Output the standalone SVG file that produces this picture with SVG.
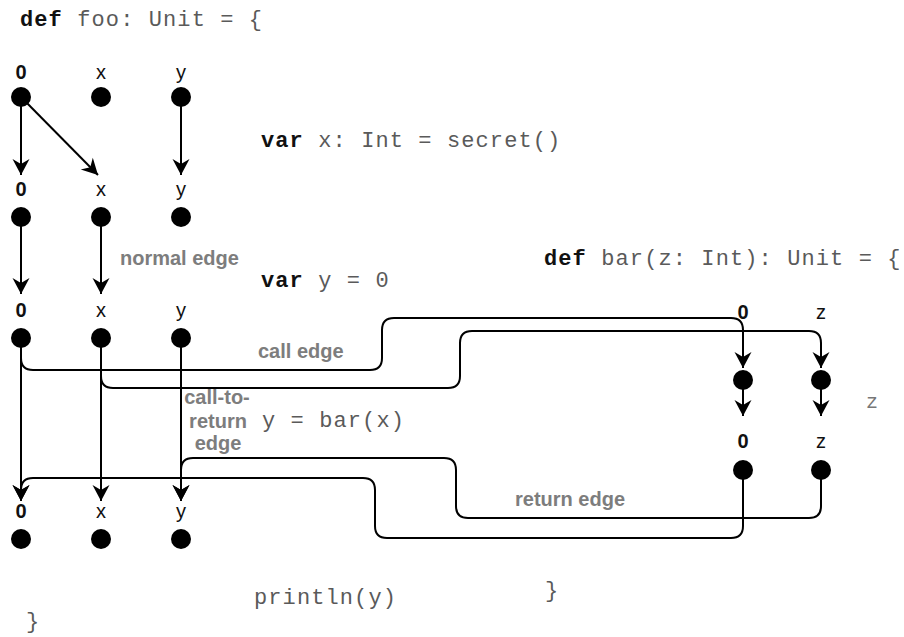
<svg xmlns="http://www.w3.org/2000/svg" width="904" height="637" viewBox="0 0 904 637">
<style>
.lbl{font-family:"Liberation Sans",Arial,sans-serif;font-size:20px;fill:#111;text-anchor:middle}
.zero{font-weight:bold}
.dot{fill:#000}
.code{font-family:"Liberation Mono","Courier New",monospace;font-size:22px;letter-spacing:1.1px;fill:#5a5a5a}
.kw{font-weight:bold;fill:#111}
.note{font-family:"Liberation Sans",Arial,sans-serif;font-size:20px;font-weight:bold;fill:#7d7d7d}
.e{fill:none;stroke:#000;stroke-width:2}
.a{marker-end:url(#ah)}
</style>
<defs>
<marker id="ah" markerUnits="userSpaceOnUse" markerWidth="20" markerHeight="20" viewBox="-17 -10 18 20" refX="0" refY="0" orient="auto">
<path d="M0,0 L-16,-8.5 L-11,0 L-16,8.5 Z" fill="#000"/>
</marker>
</defs>
<rect width="904" height="637" fill="#fff"/>

<g id="code">
<text class="code" x="20" y="26"><tspan class="kw">def</tspan> foo: Unit = {</text>
<text class="code" x="261" y="147"><tspan class="kw">var</tspan> x: Int = secret()</text>
<text class="code" x="261" y="287"><tspan class="kw">var</tspan> y = 0</text>
<text class="code" x="544" y="265"><tspan class="kw">def</tspan> bar(z: Int): Unit = {</text>
<text class="code" x="262" y="427">y = bar(x)</text>
<text class="code" x="254" y="604">println(y)</text>
<text class="code" x="26" y="628">}</text>
<text class="code" x="545" y="597">}</text>
<text class="code" x="866" y="408" style="fill:#777;font-size:20px">z</text>
</g>

<g id="connectors">
<path class="e a" d="M21,97 V175"/>
<path class="e a" d="M21,97 L98,175"/>
<path class="e a" d="M181,97 V175"/>
<path class="e a" d="M21,217 V294"/>
<path class="e a" d="M101,217 V294"/>
<path class="e a" d="M21,338 V501"/>
<path class="e a" d="M101,338 V501"/>
<path class="e a" d="M181,338 V501"/>
<path class="e a" d="M21,338 V358 Q21,370 33,370 H370 Q382,370 382,358 V330 Q382,318 394,318 H731 Q743,318 743,330 V368"/>
<path class="e a" d="M101,338 V376 Q101,388 113,388 H448 Q460,388 460,376 V343 Q460,331 472,331 H809 Q821,331 821,343 V368"/>
<path class="e a" d="M743,380 V416"/>
<path class="e a" d="M821,380 V416"/>
<path class="e a" d="M743,470 V526 Q743,538 731,538 H387 Q375,538 375,526 V490 Q375,478 363,478 H33 Q21,478 21,490 V501"/>
<path class="e a" d="M821,470 V506 Q821,518 809,518 H468 Q456,518 456,506 V470 Q456,458 444,458 H193 Q181,458 181,470 V501"/>
<text class="note" x="120" y="265">normal edge</text>
<text class="note" x="258" y="358">call edge</text>
<text class="note" x="515" y="506">return edge</text>
<text class="note" x="217" y="404" text-anchor="middle">call-to-</text>
<text class="note" x="218" y="428" text-anchor="middle">return</text>
<text class="note" x="218" y="450" text-anchor="middle">edge</text>
</g>

<g id="n1-0"><text class="lbl zero" x="21" y="79">0</text><circle class="dot" cx="21" cy="97" r="10"/></g>
<g id="n1-x"><text class="lbl" x="101" y="79">x</text><circle class="dot" cx="101" cy="97" r="10"/></g>
<g id="n1-y"><text class="lbl" x="181" y="79">y</text><circle class="dot" cx="181" cy="97" r="10"/></g>

<g id="n2-0"><text class="lbl zero" x="21" y="196">0</text><circle class="dot" cx="21" cy="217" r="10"/></g>
<g id="n2-x"><text class="lbl" x="101" y="196">x</text><circle class="dot" cx="101" cy="217" r="10"/></g>
<g id="n2-y"><text class="lbl" x="181" y="196">y</text><circle class="dot" cx="181" cy="217" r="10"/></g>

<g id="n3-0"><text class="lbl zero" x="21" y="317">0</text><circle class="dot" cx="21" cy="338" r="10"/></g>
<g id="n3-x"><text class="lbl" x="101" y="317">x</text><circle class="dot" cx="101" cy="338" r="10"/></g>
<g id="n3-y"><text class="lbl" x="181" y="317">y</text><circle class="dot" cx="181" cy="338" r="10"/></g>

<g id="n4-0"><text class="lbl zero" x="21" y="518">0</text><circle class="dot" cx="21" cy="539" r="10"/></g>
<g id="n4-x"><text class="lbl" x="101" y="518">x</text><circle class="dot" cx="101" cy="539" r="10"/></g>
<g id="n4-y"><text class="lbl" x="181" y="518">y</text><circle class="dot" cx="181" cy="539" r="10"/></g>

<g id="b1-0"><text class="lbl zero" x="743" y="319">0</text><circle class="dot" cx="743" cy="380" r="10"/></g>
<g id="b1-z"><text class="lbl" x="821" y="319">z</text><circle class="dot" cx="821" cy="380" r="10"/></g>
<g id="b2-0"><text class="lbl zero" x="743" y="448">0</text><circle class="dot" cx="743" cy="470" r="10"/></g>
<g id="b2-z"><text class="lbl" x="821" y="448">z</text><circle class="dot" cx="821" cy="470" r="10"/></g>
</svg>
